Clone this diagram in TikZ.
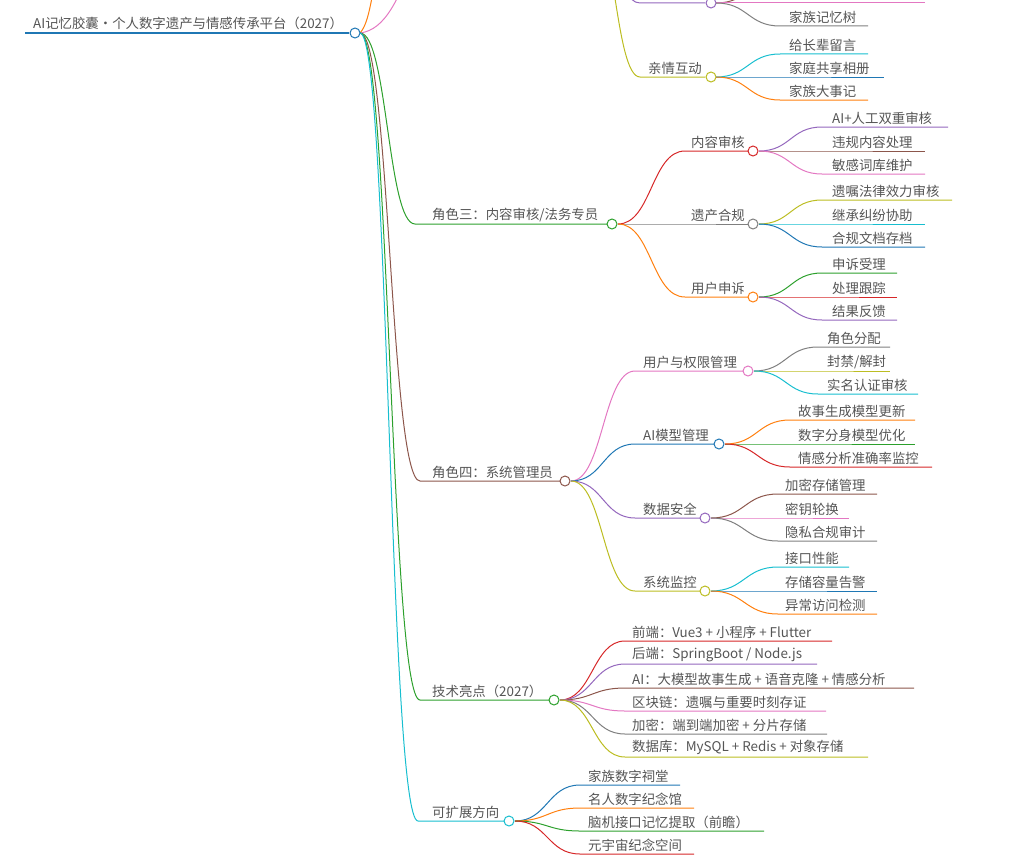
\documentclass[tikz,border=0pt]{standalone}
\usepackage{fontspec}
\setmainfont{Noto Sans CJK SC}
\begin{document}
\definecolor{cr}{HTML}{D62728}\definecolor{cg}{HTML}{2CA02C}\definecolor{co}{HTML}{FF7F0E}
\definecolor{cp}{HTML}{9467BD}\definecolor{cb}{HTML}{8C564B}\definecolor{ck}{HTML}{E377C2}
\definecolor{cy}{HTML}{7F7F7F}\definecolor{cv}{HTML}{BCBD22}\definecolor{cc}{HTML}{17BECF}
\definecolor{cu}{HTML}{1F77B4}\definecolor{tx}{HTML}{555555}
\tikzset{lbl/.style={anchor=south west,inner sep=0pt,text=tx,font=\fontsize{13.4}{15}\selectfont},
 knob/.style={circle,draw,fill=white,line width=1pt,minimum size=10pt,inner sep=0pt}}
% #1 px #2 py #3 sx #4 tx #5 y #6 ex #7 color #8 text
\newcommand{\brx}[8]{\draw[#7,line width=1pt] (#1,#2) .. controls ({(#1+#3)/2},#2) and ({(#1+#3)/2},#5) .. (#3,#5) -- (#6,#5);
 \node[lbl] at (#4,{#5-2}) {#8};}
\newcommand{\midbr}[8]{\brx{#1}{#2}{#3}{#4}{#5}{#6}{#7}{#8}\node[knob,draw=#7] at ({#6+5},#5) {};}
\begin{tikzpicture}[x=1pt,y=-1pt]
\useasboundingbox (0,0) rectangle (1035,867);
\begin{scope}
\clip (0,0) rectangle (1035,867);
% off-canvas upper branches
\draw[co,line width=1pt] (360,33) .. controls (372,20) and (372,-20) .. (385,-60);
\draw[ck,line width=1pt] (360,33) .. controls (385,30) and (400,0) .. (420,-60);
\draw[cv,line width=1pt] (590,-80) .. controls (615,-80) and (615,77) .. (640,77) -- (705,77);
\node[lbl] at (648,75) {亲情互动};
\node[knob,draw=cv] at (711,77) {};
\draw[cp,line width=1pt] (590,-80) .. controls (615,-80) and (615,3) .. (640,3) -- (705,3);
\draw[cb,line width=1pt] (716,3) .. controls (748,3) and (748,-20) .. (780,-20) -- (880,-20);
\draw[ck,line width=1pt] (716,3) -- (925,3);
\node[knob,draw=cp] at (711,3) {};
\brx{716}{3}{780}{789}{26}{868}{cy}{家族记忆树}
\brx{716}{77}{780}{789}{54}{868}{cc}{给长辈留言}
\brx{716}{77}{780}{789}{77}{884}{cu}{家庭共享相册}
\brx{716}{77}{780}{789}{100}{868}{co}{家族大事记}
\end{scope}
% role 3
\midbr{360}{33}{415}{432}{224}{607}{cg}{角色三：内容审核/法务专员}
\midbr{618}{224}{685}{691}{151}{748}{cr}{内容审核}
\midbr{618}{224}{685}{691}{224}{748}{cy}{遗产合规}
\midbr{618}{224}{685}{691}{297}{748}{co}{用户申诉}
\brx{759}{151}{822}{832}{127}{948}{cp}{AI+人工双重审核}
\brx{759}{151}{822}{832}{151}{925}{cb}{违规内容处理}
\brx{759}{151}{822}{832}{174}{925}{ck}{敏感词库维护}
\brx{759}{224}{822}{832}{200}{952}{cv}{遗嘱法律效力审核}
\brx{759}{224}{822}{832}{224}{925}{cc}{继承纠纷协助}
\brx{759}{224}{822}{832}{247}{925}{cu}{合规文档存档}
\brx{759}{297}{822}{832}{273}{897}{cg}{申诉受理}
\brx{759}{297}{822}{832}{297}{897}{cr}{处理跟踪}
\brx{759}{297}{822}{832}{320}{897}{cp}{结果反馈}
% role 4
\midbr{360}{33}{420}{432}{481}{560}{cb}{角色四：系统管理员}
\midbr{571}{481}{635}{643}{371}{743}{ck}{用户与权限管理}
\midbr{571}{481}{635}{643}{444}{714}{cu}{AI模型管理}
\midbr{571}{481}{635}{643}{518}{700}{cp}{数据安全}
\midbr{571}{481}{635}{643}{591}{700}{cv}{系统监控}
\brx{754}{371}{818}{827}{347}{890}{cy}{角色分配}
\brx{754}{371}{818}{827}{371}{890}{cv}{封禁/解封}
\brx{754}{371}{818}{827}{394}{918}{cc}{实名认证审核}
\brx{725}{444}{790}{798}{420}{915}{co}{故事生成模型更新}
\brx{725}{444}{790}{798}{444}{915}{cg}{数字分身模型优化}
\brx{725}{444}{790}{798}{467}{932}{cr}{情感分析准确率监控}
\brx{711}{518}{778}{785}{494}{877}{cb}{加密存储管理}
\brx{711}{518}{778}{785}{518}{849}{ck}{密钥轮换}
\brx{711}{518}{778}{785}{541}{877}{cy}{隐私合规审计}
\brx{711}{591}{778}{785}{567}{849}{cc}{接口性能}
\brx{711}{591}{778}{785}{591}{877}{cu}{存储容量告警}
\brx{711}{591}{778}{785}{614}{877}{co}{异常访问检测}
% tech
\midbr{360}{33}{420}{432}{700}{549}{cg}{技术亮点（2027）}
\brx{560}{700}{625}{632}{641}{832}{cr}{前端：Vue3 + 小程序 + Flutter}
\brx{560}{700}{625}{632}{664}{817}{cp}{后端：SpringBoot / Node.js}
\brx{560}{700}{625}{632}{688}{914}{cb}{AI：大模型故事生成 + 语音克隆 + 情感分析}
\brx{560}{700}{625}{632}{711}{826}{ck}{区块链：遗嘱与重要时刻存证}
\brx{560}{700}{625}{632}{734}{827}{cy}{加密：端到端加密 + 分片存储}
\brx{560}{700}{625}{632}{757}{868}{cv}{数据库：MySQL + Redis + 对象存储}
% expand
\midbr{360}{33}{418}{432}{821}{504}{cc}{可扩展方向}
\brx{515}{821}{580}{588}{785}{680}{cu}{家族数字祠堂}
\brx{515}{821}{580}{588}{808}{694}{co}{名人数字纪念馆}
\brx{515}{821}{580}{588}{831}{764}{cg}{脑机接口记忆提取（前瞻）}
\brx{515}{821}{580}{588}{854}{694}{cr}{元宇宙纪念空间}
% root
\draw[cu,line width=2.4pt] (25,33) -- (349,33);
\node[lbl] at (33,30) {AI记忆胶囊·个人数字遗产与情感传承平台（2027）};
\node[knob,draw=cu] at (355,33) {};
\end{tikzpicture}
\end{document}
